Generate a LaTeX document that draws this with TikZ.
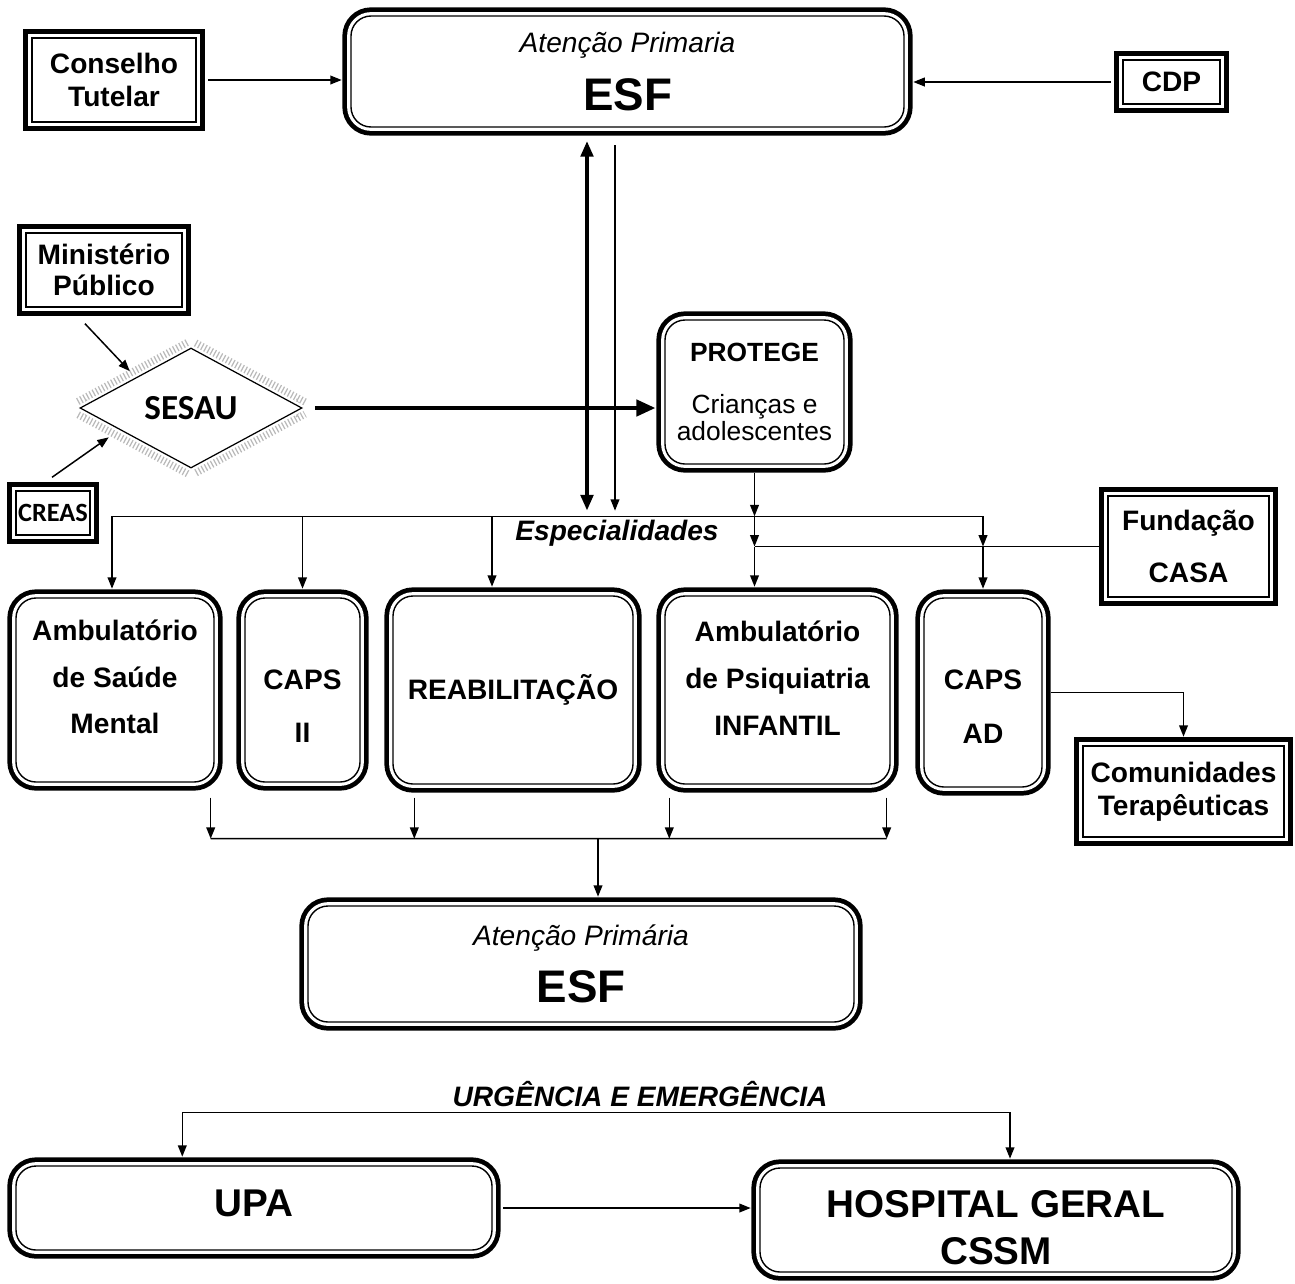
\documentclass[tikz,border=0pt]{standalone}
\usepackage{fontspec}
\setmainfont{Liberation Sans}
\newfontfamily\calibri{Carlito}
\usetikzlibrary{positioning, calc, arrows.meta, shapes.geometric}

\tikzset{
  dbl/.style={draw, line width=0.8pt, fill=white, align=center,
    preaction={draw, line width=9.8pt}, preaction={draw, white, line width=4.4pt}},
  rbox/.style={dbl, rounded corners=4mm},
  sbox/.style={dbl, font=\bfseries\fontsize{16}{19}\selectfont},
  colbox/.style={rbox, font=\bfseries\fontsize{16}{26.6}\selectfont},
  sesaubox/.style={shape=diamond, draw, line width=0.7pt, fill=white, inner sep=0pt,
    minimum width=44.4mm, minimum height=24mm, font=\calibri\bfseries\fontsize{20}{24}\selectfont,
    preaction={draw, gray!55, line width=12pt, dash pattern=on 0.7pt off 1.3pt},
    preaction={draw, white, line width=3.5pt}},
  wire/.style={line width=0.85pt},
  lnk/.style={wire, -{Triangle[length=6.5pt,width=5pt]}, shorten >=4.9pt},
  both/.style={wire, {Triangle[length=6.5pt,width=5pt]}-{Triangle[length=6.5pt,width=5pt]}, shorten >=4.9pt, shorten <=4.9pt},
  bigarr/.style={line width=2.8pt, -{Triangle[length=11pt,width=9pt]}, shorten >=4.9pt},
  bigdbl/.style={line width=2.3pt, {Triangle[length=9pt,width=7pt]}-{Triangle[length=9pt,width=7pt]}},
  lbl/.style={font=\bfseries\itshape\fontsize{16}{19}\selectfont}
}

\begin{document}
\begin{tikzpicture}[x=0.2mm, y=-0.2mm]
    \useasboundingbox (0,0) rectangle (1295,1283);

    % top level
    \node[rbox, minimum width=110.6mm, minimum height=22.2mm] (esf1) at (627.5,71.5)
        {{\itshape\fontsize{16}{19}\selectfont Atenção Primaria}\\[10pt]{\bfseries\fontsize{26}{30}\selectfont ESF}};
    \node[sbox, minimum width=32.8mm, minimum height=16.8mm] (ct) at (114,80) {Conselho\\Tutelar};
    \node[sbox, minimum width=19.4mm, minimum height=8.8mm] (cdp) at (1171.5,82) {CDP};
    \draw[lnk, shorten <=6.5pt] (ct) -- (ct -| esf1.west);
    \draw[lnk, shorten <=6.5pt] (cdp) -- (cdp -| esf1.east);

    % sesau and protege
    \node[sbox, font=\bfseries\fontsize{16}{17.6}\selectfont, minimum width=31.2mm, minimum height=14.8mm] (mp) at (104,270) {Ministério\\Público};
    \node[sesaubox] (sesau) at (191,408) {SESAU};
    \node[dbl, font=\calibri\bfseries\fontsize{15}{18}\selectfont, inner sep=1pt, minimum width=14.8mm, minimum height=8.8mm] (creas) at (53,513) {CREAS};
    \node[rbox, font=\fontsize{15}{15.5}\selectfont, minimum width=35.8mm, minimum height=28.8mm] (prot) at (754.5,392)
        {\textbf{PROTEGE}\\[14pt]Crianças e\\adolescentes};
    \draw[lnk, shorten >=2pt] ($(mp.south)+(-19,16)$) -- ($(sesau.north west)+(-3,-4)$);
    \draw[lnk, shorten >=1pt] ($(creas.north)+(-1,-13)$) -- ($(sesau.south west)+(-25,-2)$);

    \draw[bigdbl, shorten <=7.5pt] ($(esf1.south)+(-40.5,0)$) -- ($(esf1.south)+(-40.5,383)$);
    \draw[lnk, shorten <=10pt, shorten >=0pt] ($(esf1.south)+(-12.5,0)$) -- ++(0,383);
    \draw[bigarr, shorten <=7pt] (sesau.east) -- (sesau.east -| prot.west);

    % especialidades
    \node[colbox, minimum width=39.6mm, minimum height=36.8mm] (ams) at (115,690) {Ambulatório\\de Saúde\\Mental\rule[-15pt]{0pt}{0pt}};
    \node[colbox, font=\bfseries\fontsize{16}{30}\selectfont, minimum width=23mm, minimum height=36.8mm] (caps2) at (302.5,690) {\rule{0pt}{29.5pt}CAPS\\II};
    \node[colbox, minimum width=48mm, minimum height=37.6mm] (reab) at (513,690) {REABILITAÇÃO};
    \node[colbox, minimum width=45mm, minimum height=37.6mm] (api) at (777.5,690) {Ambulatório\\de Psiquiatria\\INFANTIL\rule[-13.6pt]{0pt}{0pt}};
    \node[colbox, font=\bfseries\fontsize{16}{30.5}\selectfont, minimum width=23.6mm, minimum height=37.8mm] (capsad) at (983,692.5) {\rule{0pt}{27.5pt}CAPS\\AD};
    \node[sbox, font=\bfseries\fontsize{16}{29.5}\selectfont, minimum width=32.2mm, minimum height=20.2mm] (fund) at (1188.5,546.5) {Fundação\\CASA};
    \node[sbox, inner xsep=1pt, minimum width=40.2mm, minimum height=18.2mm] (ctera) at (1183.5,791.5) {Comunidades\\Terapêuticas};
    \node[lbl] (esp) at (617,533) {Especialidades};

    \coordinate (busL) at ($(ams.north)+(-3,-81)$);
    \coordinate (fj) at (prot.south |- fund.west);
    \draw[wire] (busL) -- (busL -| capsad.north);
    \draw[lnk] (busL) -- (busL |- ams.north);
    \draw[lnk] (busL -| caps2.north) -- (caps2.north);
    \draw[lnk] ($(busL -| reab.north)+(-21,0)$) -- ($(reab.north)+(-21,0)$);
    \draw[lnk, shorten <=4.9pt, shorten >=0pt] (prot.south) -- (prot.south |- busL);
    \draw[lnk, shorten >=0pt] (prot.south |- busL) -- (fj);
    \draw[lnk] (fj) -- (fj |- api.north);
    \draw[wire, shorten <=4.9pt] (fund.west) -- (fj);
    \draw[lnk, shorten >=0pt] (busL -| capsad.north) -- (fj -| capsad.north);
    \draw[lnk] (fj -| capsad.north) -- (capsad.north);
    \draw[lnk, shorten <=4.9pt] (capsad.east) -| (ctera.north);

    % back to primary care
    \node[rbox, minimum width=109.2mm, minimum height=23.2mm] (esf2) at (581,964)
        {{\itshape\fontsize{16}{19}\selectfont Atenção Primária}\\[10pt]{\bfseries\fontsize{26}{30}\selectfont ESF}};
    \coordinate (colL) at ($(ams.south east)+(-4,56)$);
    \coordinate (colR) at ($(api.south east)+(-4,54)$);
    \draw[wire] (colL) -- (colR);
    \draw[lnk, shorten >=0pt] ($(ams.south east)+(-4,15)$) -- (colL);
    \draw[lnk, shorten >=0pt] ($(reab.south west)+(22,13)$) -- ($(colL -| reab.south west)+(22,0)$);
    \draw[lnk, shorten >=0pt] ($(api.south west)+(5,13)$) -- ($(colL -| api.south west)+(5,0)$);
    \draw[lnk, shorten >=0pt] ($(api.south east)+(-4,13)$) -- (colR);
    \draw[lnk] ($(colL -| esf2.north)+(17,0)$) -- ($(esf2.north)+(17,0)$);

    % urgencia
    \node[lbl] (urg) at (640,1094) {URGÊNCIA E EMERGÊNCIA};
    \node[rbox, font=\bfseries\fontsize{22}{26}\selectfont, minimum width=95.2mm, minimum height=16.8mm] (upa) at (254,1208) {UPA\rule[-5.7pt]{0pt}{0pt}};
    \node[rbox, font=\bfseries\fontsize{22}{26.6}\selectfont, minimum width=94.4mm, minimum height=20.8mm] (hosp) at (996,1220) {\rule{0pt}{24pt}HOSPITAL GERAL\\CSSM};
    \coordinate (urgL) at ($(upa.north west)+(167,-53)$);
    \draw[both] ($(upa.north west)+(167,0)$) -- (urgL) -| ($(hosp.north)+(14,0)$);
    \draw[lnk, shorten <=6pt] (upa) -- (upa -| hosp.west);
\end{tikzpicture}
\end{document}
